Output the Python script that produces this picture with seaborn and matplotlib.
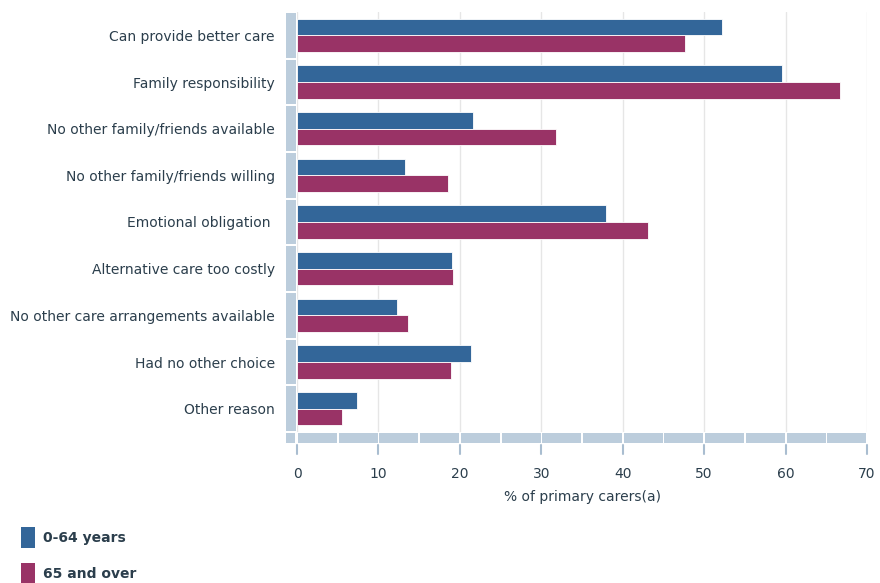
import numpy as np
import pandas as pd
import seaborn as sns
import matplotlib.pyplot as plt
from matplotlib.patches import Patch, Rectangle
from matplotlib.lines import Line2D
import matplotlib.transforms as mtransforms

## Data
reasons = [
    "Can provide better care",
    "Family responsibility",
    "No other family/friends available",
    "No other family/friends willing",
    "Emotional obligation ",
    "Alternative care too costly",
    "No other care arrangements available",
    "Had no other choice",
    "Other reason",
]
under_65 = [52.2, 59.5, 21.6, 13.3, 38.0, 19.0, 12.3, 21.4, 7.4]
over_65 = [47.7, 66.7, 31.8, 18.5, 43.1, 19.2, 13.6, 18.9, 5.5]
groups = ["0-64 years", "65 and over"]
x_ticks = [0, 10, 20, 30, 40, 50, 60, 70]

BLUE = "#336699"
RED = "#993366"
FRAME = "#bccddc"
TEXT = "#2b3e4c"

df = pd.DataFrame({
    "reason": reasons * 2,
    "value": under_65 + over_65,
    "group": [groups[0]] * len(reasons) + [groups[1]] * len(reasons),
})

sns.set_style("white")
plt.rcParams["font.family"] = ["DejaVu Sans"]

fig = plt.figure(figsize=(8.8, 5.83), dpi=100)
ax = fig.add_axes([297 / 880, 1 - 432 / 583, 570 / 880, 420 / 583])

sns.barplot(data=df, y="reason", x="value", hue="group", orient="h",
            palette=[BLUE, RED], saturation=1, width=0.72, ax=ax,
            legend=False, edgecolor="white", linewidth=0.6, zorder=3)

ax.set_xlim(0, 70)
ax.set_ylim(len(reasons) - 0.5, -0.5)
ax.set_xticks(x_ticks)
ax.set_xticklabels([str(t) for t in x_ticks])
ax.grid(axis="x", color="#e6e6e6", linewidth=1, zorder=0)
ax.grid(axis="y", visible=False)
for s in ax.spines.values():
    s.set_visible(False)

ax.set_ylabel("")
ax.set_xlabel("% of primary carers(a)", color=TEXT, fontsize=10, labelpad=7)
ax.tick_params(axis="y", length=0, pad=16, labelsize=10, labelcolor=TEXT)
ax.tick_params(axis="x", length=0, pad=25, labelsize=10, labelcolor=TEXT)

# left frame blocks, one per category
trans_y = mtransforms.blended_transform_factory(fig.transFigure, ax.transData)
for i in range(len(reasons)):
    ax.add_patch(Rectangle((286 / 880, i - 0.48), 10 / 880, 0.96,
                           transform=trans_y, facecolor=FRAME,
                           edgecolor="none", clip_on=False, zorder=2))

# bottom frame bar, segmented every 5 units
trans_x = mtransforms.blended_transform_factory(ax.transData, fig.transFigure)
y0 = 1 - 443 / 583
h = 10 / 583
ax.add_patch(Rectangle((-1.3, y0), 1.1, h, transform=trans_x, facecolor=FRAME,
                       edgecolor="none", clip_on=False, zorder=2))
for start in np.arange(0, 70, 5):
    ax.add_patch(Rectangle((start + 0.12, y0), 4.8, h, transform=trans_x,
                           facecolor=FRAME, edgecolor="none", clip_on=False,
                           zorder=2))
for t in x_ticks:
    fig.add_artist(Line2D([t, t], [1 - 445 / 583, 1 - 454 / 583],
                          transform=trans_x, color="#a9bdd0", linewidth=1.5,
                          zorder=5))

handles = [Patch(facecolor=BLUE, edgecolor="none"),
           Patch(facecolor=RED, edgecolor="none")]
leg = fig.legend(handles, groups, loc="upper left", bbox_to_anchor=(0.024, 0.096),
                 frameon=False, handlelength=1.0, handleheight=1.9,
                 handletextpad=0.55, labelspacing=1.1, borderaxespad=0,
                 borderpad=0, prop={"weight": "bold", "size": 10})
for t in leg.get_texts():
    t.set_color(TEXT)

fig.savefig("out.png", dpi=100)
